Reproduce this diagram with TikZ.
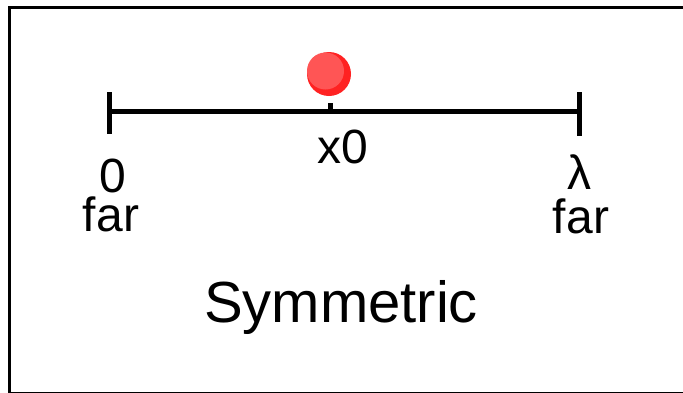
\documentclass[tikz,border=0pt]{standalone}
\usepackage{fontspec}
\setmainfont{Liberation Sans}
\usetikzlibrary{positioning}
\definecolor{ballred}{HTML}{FF2222}
\definecolor{ballhi}{HTML}{FF5555}
\tikzset{
  frame/.style={line width=3pt,draw=black},
  axisline/.style={line width=5pt,draw=black},
  tickmark/.style={line width=5pt,draw=black},
  lbl/.style={font=\fontsize{48}{50}\selectfont,inner sep=0pt,anchor=base},
  ttl/.style={font=\fontsize{58}{60}\selectfont,inner sep=0pt,anchor=base},
}

\begin{document}
\begin{tikzpicture}[x=1pt,y=-1pt]
  \useasboundingbox (0,0) rectangle (683,392);
  \draw[frame] (9,7) rectangle (690,393.5);
  % axis with end ticks
  \coordinate (lo) at (109,111);
  \coordinate (hi) at (579,111);
  \coordinate (mid) at (330,111);
  \draw[axisline] (lo) -- (hi);
  \draw[tickmark] (109,92) -- (109,134);
  \draw[tickmark] (579,92) -- (579,136);
  \draw[tickmark] (mid) -- (330,103);
  % ball at x0
  \node[circle,fill=ballred,minimum size=44pt,inner sep=0pt] (ball) at (329,74) {};
  \fill[ballhi] (325.5,71) circle (18.5pt);
  \node[lbl] (x0) at (343,163) {x0};
  \node[lbl] (zero) at (113,192) {0};
  \node[lbl] (farl) at (111,231) {far};
  \node[lbl] (lam) at (579,189) {λ};
  \node[lbl] (farr) at (581,233) {far};
  \node[ttl] (sym) at (341,322) {Symmetric};
\end{tikzpicture}
\end{document}
